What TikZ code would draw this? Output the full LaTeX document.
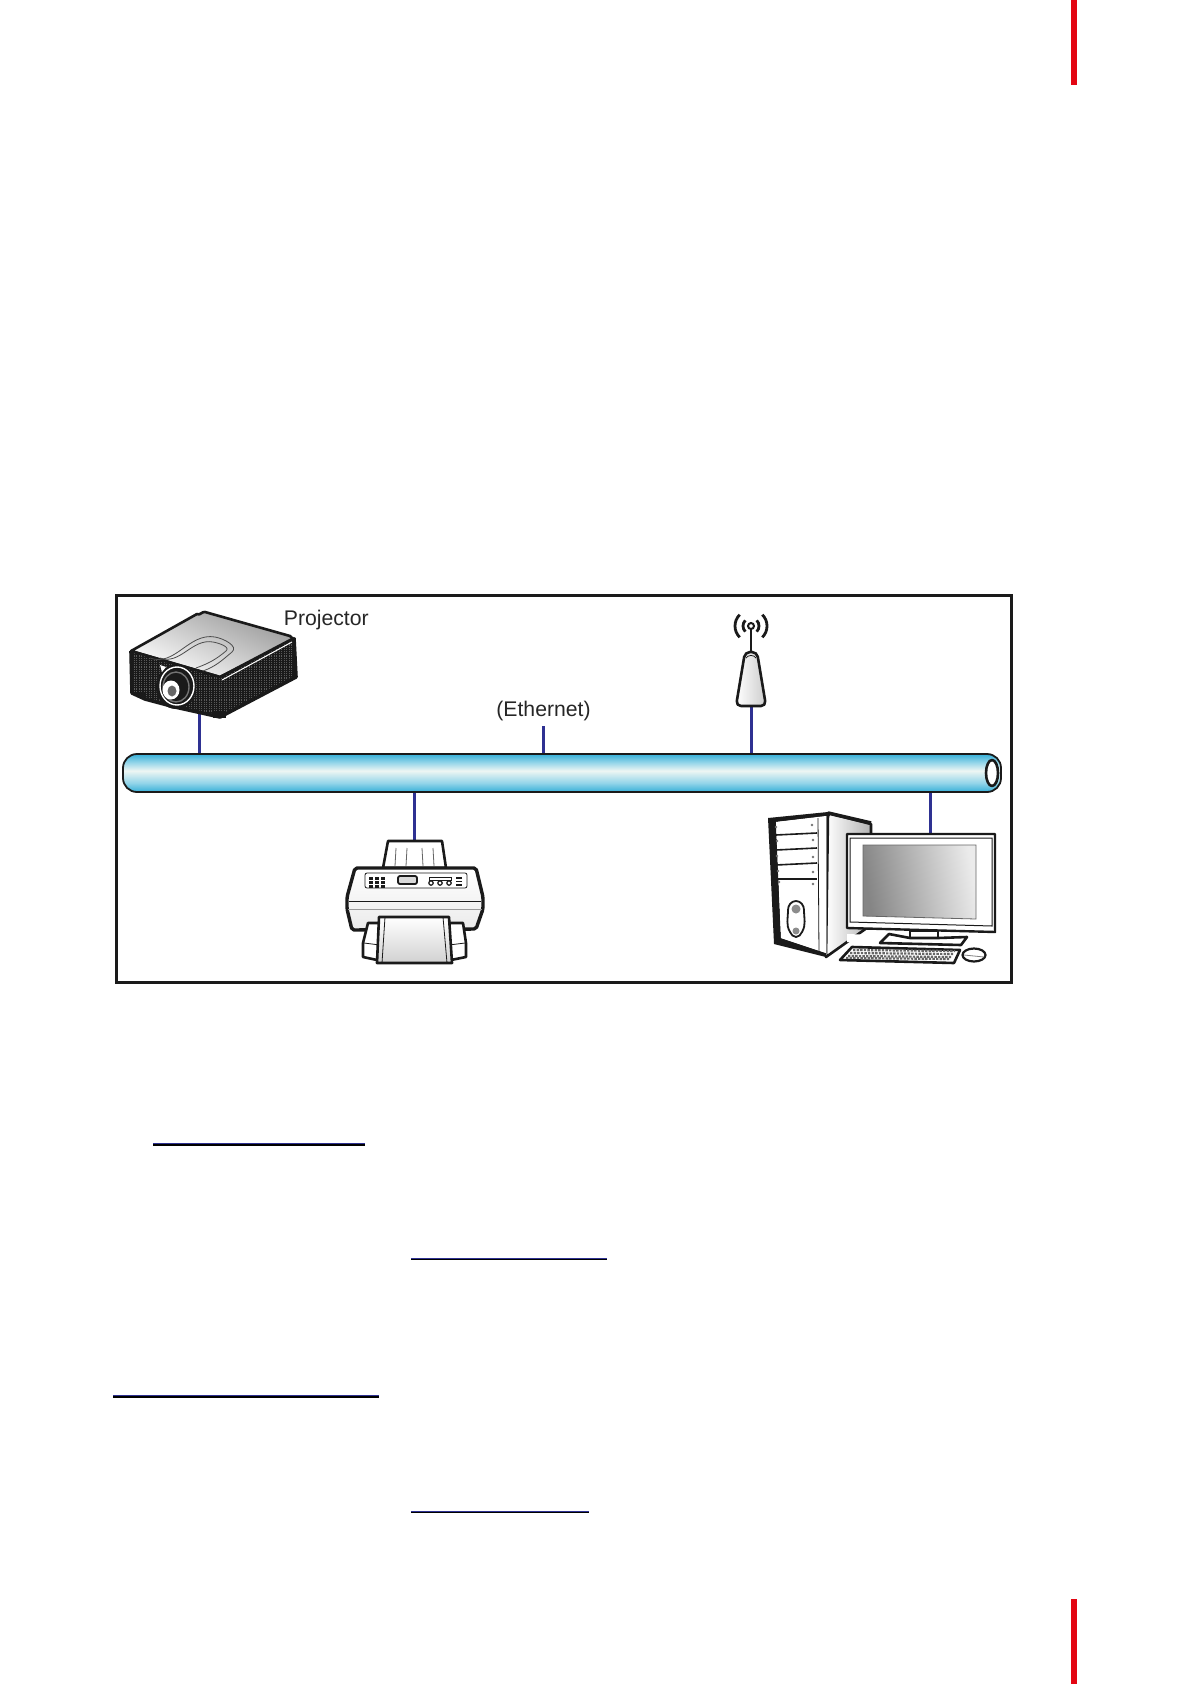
\documentclass[tikz,border=0pt]{standalone}
\usepackage{fontspec}
\setmainfont{Liberation Sans}
\definecolor{navy}{HTML}{2E3192}
\definecolor{ink}{HTML}{1A1A1A}
\definecolor{barred}{HTML}{E30613}
\definecolor{pipeblue}{HTML}{36AFD8}
\definecolor{pipepale}{HTML}{93D5E9}
\definecolor{pipewhite}{HTML}{EEF6F3}
\pgfdeclareverticalshading{pipeshade}{100bp}{color(0bp)=(pipeblue); color(25bp)=(pipeblue); color(37bp)=(pipepale); color(53bp)=(pipewhite); color(64bp)=(pipepale); color(75bp)=(pipeblue); color(100bp)=(pipeblue)}
\tikzset{
  link/.style={navy,line width=1.5pt},
  outline/.style={ink,line width=1.3pt,line join=round},
  fineline/.style={ink,line width=0.4pt},
  label/.style={text=black!85,font=\fontsize{10.6pt}{12pt}\selectfont,inner sep=0pt},
  pipe/.style={draw=ink,line width=0.9pt,shading=pipeshade,rounded corners=7pt,minimum width=439pt,minimum height=19pt,inner sep=0pt},
}
\begin{document}
\begin{tikzpicture}[x=0.5pt,y=-0.5pt]
\useasboundingbox(0,0)rectangle(1191,1684);
%page marks
\fill[barred](1071,0)rectangle(1077,85);
\fill[barred](1071,1599)rectangle(1077,1684);
\foreach \xa/\xb/\ya/\wa in {153/365/1145/1pt,411/607/1259.5/0.5pt,113/379/1397/1pt,411/589/1512.3/0.6pt}
  \draw[line width=\wa](\xa,\ya)--(\xb,\ya);
\foreach \xa/\xb/\ya in {153/365/1143.5,411/607/1258.5,113/379/1395.5,411/589/1511.2}
  \draw[navy,line width=0.5pt](\xa,\ya)--(\xb,\ya);
%frame
\draw[ink,line width=1.5pt](116,595)rectangle(1011.5,982);
%ports
\node[pipe](bus)at(562,773){};
\coordinate(projectorport)at(199,708);
\coordinate(printerport)at(414.5,841);
\coordinate(routerport)at(751,705);
\coordinate(pcport)at(930.5,834);
\coordinate(ethernetend)at(543.5,726);
\draw[link](projectorport)--(projectorport|-bus.north);
\draw[link](printerport)--(printerport|-bus.south);
\draw[link](routerport)--(routerport|-bus.north);
\draw[link](pcport)--(pcport|-bus.south);
\draw[link](ethernetend)--(ethernetend|-bus.north);
\draw[outline,fill=white](992,773)ellipse[x radius=6,y radius=13];
\node[label,anchor=base west](projectorlabel)at(283.5,625){Projector};
\node[label,anchor=base](ethernetlabel)at(543.5,716){(Ethernet)};
%projector
\shadedraw[outline,top color=black!40,middle color=black!10,bottom color=white,shading angle=-25](131,651)--(197,614)to[out=-40,in=170](205,612)--(290,636)--(294,640)--(220,677)--cycle;
\begin{scope}
\clip(131,651)--(220,677)--(295,637)--(296,677)--(220,717)--(175,707)--(132,693)--cycle;
\fill[ink](120,600)rectangle(300,725);
\foreach \xa in {134,136.5,...,296}
  \draw[black!65,line width=0.35pt,dash pattern=on 0.6pt off 0.5pt](\xa,640)--(\xa,720);
\end{scope}
\draw[outline](131,651)--(220,677)--(294,638);
\draw[outline,line width=1.8pt,line join=round](131,651)--(132,693)--(145,699)--(175,707)--(220,717)--(296,677)--(294,638);
\fill[ink](138,692)rectangle(146,698);
\fill[ink](213,711)rectangle(226,718);
\draw[white,line width=0.5pt](222,680)--(292,642);
\draw[fineline,black!70](150,658)to[out=-20,in=170](215,637)to[out=-10,in=40](232,652)to[out=-140,in=20](203,671);
\draw[fineline,black!70](160,658)to[out=-20,in=170](213,642)to[out=-10,in=40](226,651)to[out=-140,in=20](196,668);
\fill[ink](176,687)ellipse[x radius=20,y radius=22];
\draw[white,line width=0.7pt](177,686)ellipse[x radius=17,y radius=19];
\draw[black!55,line width=0.7pt](176,687)ellipse[x radius=13,y radius=15];
\fill[white](171,690)ellipse[x radius=8.5,y radius=9.5];
\fill[black!60](172,691)ellipse[x radius=4.5,y radius=5.5];
\fill[white](160,665)--(166,667)--(162,672)--cycle;
%router
\draw[ink,line width=1.3pt](751,626)--(751,652);
\draw[ink,fill=white,line width=1pt](751,626)circle(3);
\foreach \ra in {8,16}{
  \draw[ink,line width=1.4pt](751,626)++(-45:\ra)arc[start angle=-45,end angle=45,radius=\ra];
  \draw[ink,line width=1.4pt](751,626)++(135:\ra)arc[start angle=135,end angle=225,radius=\ra];
}
\shadedraw[outline,left color=white,right color=black!20,rounded corners=2.5pt](745,652)--(757,652)--(766,706)--(736,706)--cycle;
\draw[fineline](746,658)to[out=60,in=120](756,658);
%printer
\draw[outline,fill=white](383,868)--(388,841)--(442,841)--(446,868)--cycle;
\foreach \xa/\xb in {396/395,407/406,422/423,433/434}
  \draw[fineline,black!60](\xa,848)--(\xb,866);
\shadedraw[outline,line width=1.7pt,top color=white,bottom color=black!8,rounded corners=1pt](355,868)--(476,868)--(483,897)--(483,909)--(476,929)--(352,930)--(347,909)--(347,897)--cycle;
\draw[fineline](349,901)--(481,901);
\draw[fineline,black!40](348,909)--(482,909);
\draw[fineline,rounded corners=1pt,fill=white](365,873)rectangle(467,888);
\foreach \xa in {369,375,381}
  \foreach \ya in {877,881,885}
    \fill[ink](\xa,\ya)rectangle++(4,2.5);
\draw[ink,line width=0.9pt,rounded corners=1pt,fill=black!15](398,876)rectangle(417,884);
\draw[fineline](429,877)rectangle(451,880);
\foreach \xa in {431,440,449}
  \draw[ink,line width=0.6pt](\xa,883)circle(2.2);
\foreach \ya in {877,880.5,884}
  \fill[ink](456,\ya)rectangle++(6,1.8);
\draw[outline,fill=white](368,923)--(363,943)--(363,957)--(377,960)--(451,960)--(466,957)--(466,943)--(463,923)--cycle;
\draw[fineline](364,943)--(380,945);
\draw[fineline](465,943)--(449,945);
\shadedraw[outline,top color=white,bottom color=black!18](379,917)--(449,917)--(452,963)--(377,963)--cycle;
\draw[fineline](385,917)--(382,963);
\draw[fineline](443,917)--(447,963);
%tower
\shadedraw[outline,left color=white,right color=black!30](828,813)--(871,824)--(871,925)--(826,957)--cycle;
\draw[ink,line width=1.8pt](828,813)--(871,823);
\fill[ink](768,818)--(828,812)--(830,816)--(776,822)--(781,938)--(826,953)--(826,957)--(774,944)--cycle;
\fill[white](776,822)--(826,816)--(826,953)--(781,938)--cycle;
\draw[fineline](818,818)--(819,955);
\draw[fineline,black!50](826,816)--(826,955);
\foreach \ya/\yb in {835/833,850/848,865/863,879/879}
  \draw[ink,line width=0.8pt](776,\ya)--(817,\yb);
\foreach \xa/\ya in {812/825,813/840,813/857,813/872,813/884,776/827,777/841,777/856,778/871,779/882}
  \fill[black!55](\xa,\ya)circle(1.3);
\draw[ink,line width=0.9pt,fill=white](788,910)to[out=90,in=180](796,901)to[out=0,in=90](804,910)to[out=-90,in=60](802,932)to[out=-120,in=0](796,937)to[out=180,in=-60](790,932)to[out=120,in=-90]cycle;
\fill[black!45](796,909)circle(4.5);
\fill[black!45](796,931)circle(3.5);
%monitor
\fill[white](847,934)--(966,938)--(966,945)--(847,942)--cycle;
\draw[outline,fill=white](910,931)--(938,931)--(938,938)--(910,938)--cycle;
\draw[outline,fill=white](889,934)--(910,938)--(938,938)--(967,937)--(961,945)--(880,943)--cycle;
\draw[outline,line width=1.2pt,fill=white](847,834)--(995,834)--(995,932)--(847,928)--cycle;
\draw[fineline,line width=0.5pt](850,838)--(992,838)--(992,926)--(850,922)--cycle;
\shadedraw[fineline,black!60,left color=black!48,right color=black!8,shading angle=100](863,845)--(976,845)--(976,919)--(863,916)--cycle;
%keyboard
\draw[outline,fill=white](852,947)--(960,950)--(954,963)--(840,960)--cycle;
\foreach \ya/\xa/\xb in {950/853/955,953/850/953,956/848/951,958/846/949}
  \draw[black!60,line width=1.1pt,dash pattern=on 1.2pt off 0.6pt](\xa,\ya)--(\xb,\ya+1);
%mouse
\draw[ink,line width=1.1pt,fill=white](974,955)ellipse[x radius=11.5,y radius=6.5];
\draw[fineline,black!50](964,955)--(984,957);
\end{tikzpicture}
\end{document}
